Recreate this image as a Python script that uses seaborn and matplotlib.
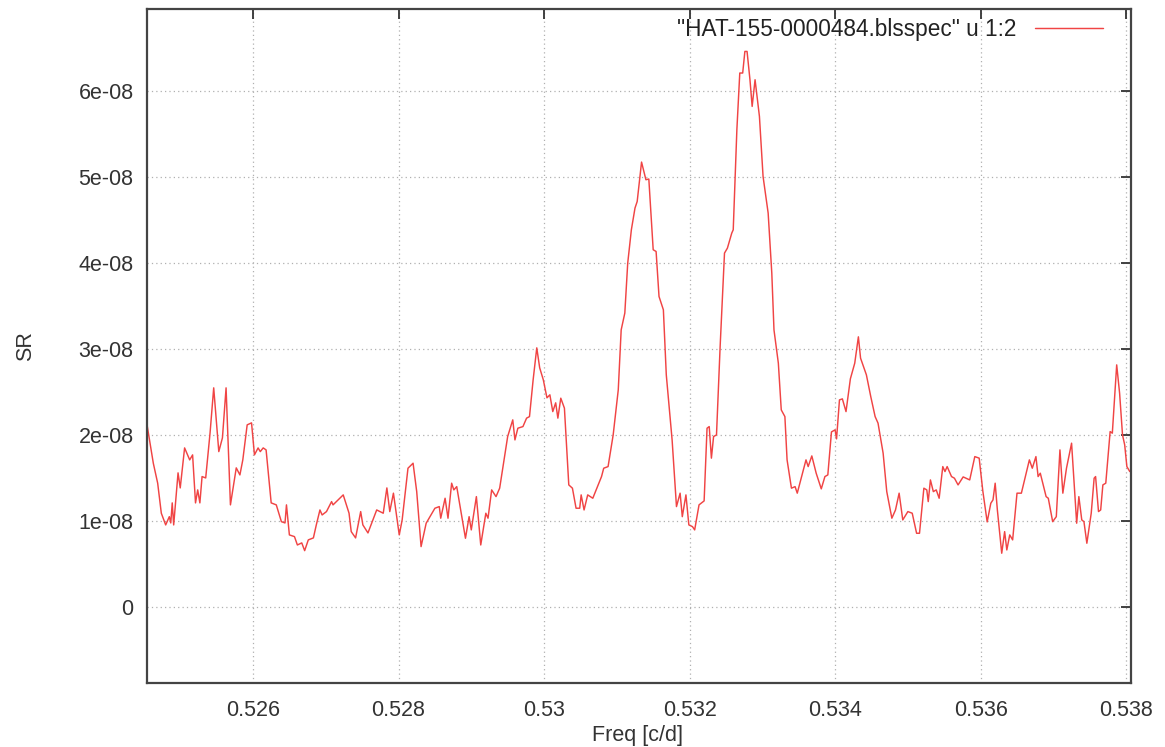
import numpy as np
import pandas as pd
import matplotlib
matplotlib.use("Agg")
import matplotlib.pyplot as plt
from matplotlib.ticker import FixedLocator
import seaborn as sns

# ---- data (frequency in c/d, SR in units of 1e-8) ----
freq = [
    0.52454, 0.52463, 0.52469, 0.52474, 0.52480, 0.52485, 0.52487, 0.52489, 0.52491, 0.52497,
    0.52500, 0.52506, 0.52513, 0.52517, 0.52521, 0.52524, 0.52527, 0.52530, 0.52535, 0.52541,
    0.52546, 0.52553, 0.52558, 0.52563, 0.52569, 0.52577, 0.52582, 0.52586, 0.52592, 0.52598,
    0.52602, 0.52607, 0.52610, 0.52614, 0.52618, 0.52625, 0.52632, 0.52639, 0.52644, 0.52646,
    0.52650, 0.52657, 0.52661, 0.52667, 0.52671, 0.52676, 0.52683, 0.52687, 0.52692, 0.52695,
    0.52701, 0.52708, 0.52710, 0.52724, 0.52732, 0.52735, 0.52741, 0.52748, 0.52751, 0.52758,
    0.52770, 0.52779, 0.52784, 0.52788, 0.52793, 0.52801, 0.52805, 0.52813, 0.52820, 0.52825,
    0.52831, 0.52838, 0.52850, 0.52856, 0.52858, 0.52864, 0.52868, 0.52873, 0.52876, 0.52880,
    0.52892, 0.52897, 0.52900, 0.52907, 0.52913, 0.52920, 0.52923, 0.52928, 0.52934, 0.52939,
    0.52950, 0.52957, 0.52960, 0.52964, 0.52971, 0.52976, 0.52980, 0.52985, 0.52990, 0.52994,
    0.52999, 0.53004, 0.53008, 0.53012, 0.53016, 0.53019, 0.53023, 0.53028, 0.53034, 0.53039,
    0.53044, 0.53049, 0.53051, 0.53055, 0.53060, 0.53067, 0.53079, 0.53082, 0.53088, 0.53095,
    0.53102, 0.53106, 0.53111, 0.53115, 0.53120, 0.53125, 0.53128, 0.53134, 0.53140, 0.53144,
    0.53150, 0.53154, 0.53158, 0.53164, 0.53168, 0.53176, 0.53182, 0.53187, 0.53190, 0.53195,
    0.53199, 0.53204, 0.53207, 0.53213, 0.53220, 0.53224, 0.53227, 0.53230, 0.53233, 0.53237,
    0.53242, 0.53248, 0.53252, 0.53258, 0.53260, 0.53265, 0.53269, 0.53273, 0.53276, 0.53279,
    0.53283, 0.53286, 0.53290, 0.53296, 0.53301, 0.53308, 0.53313, 0.53316, 0.53322, 0.53326,
    0.53331, 0.53334, 0.53340, 0.53345, 0.53348, 0.53354, 0.53360, 0.53363, 0.53368, 0.53374,
    0.53381, 0.53386, 0.53390, 0.53395, 0.53400, 0.53402, 0.53406, 0.53410, 0.53415, 0.53421,
    0.53427, 0.53432, 0.53435, 0.53443, 0.53449, 0.53455, 0.53459, 0.53466, 0.53471, 0.53478,
    0.53483, 0.53488, 0.53493, 0.53500, 0.53506, 0.53512, 0.53516, 0.53522, 0.53526, 0.53528,
    0.53531, 0.53535, 0.53539, 0.53543, 0.53548, 0.53551, 0.53554, 0.53560, 0.53564, 0.53569,
    0.53576, 0.53585, 0.53592, 0.53598, 0.53603, 0.53609, 0.53614, 0.53617, 0.53620, 0.53623,
    0.53629, 0.53633, 0.53636, 0.53640, 0.53644, 0.53650, 0.53656, 0.53667, 0.53671, 0.53676,
    0.53679, 0.53682, 0.53690, 0.53693, 0.53699, 0.53704, 0.53709, 0.53713, 0.53718, 0.53725,
    0.53732, 0.53735, 0.53739, 0.53742, 0.53746, 0.53752, 0.53756, 0.53758, 0.53762, 0.53765,
    0.53768, 0.53772, 0.53778, 0.53781, 0.53787, 0.53791, 0.53795, 0.53798, 0.53801, 0.53805,
]
sr_1e8 = [
    2.140, 1.674, 1.442, 1.093, 0.957, 1.053, 0.980, 1.213, 0.957, 1.562,
    1.387, 1.852, 1.713, 1.771, 1.213, 1.364, 1.213, 1.519, 1.503, 2.027,
    2.550, 1.809, 1.969, 2.550, 1.190, 1.620, 1.538, 1.713, 2.120, 2.143,
    1.771, 1.852, 1.809, 1.852, 1.829, 1.213, 1.190, 0.995, 0.980, 1.190,
    0.841, 0.821, 0.724, 0.748, 0.658, 0.783, 0.806, 0.957, 1.131, 1.073,
    1.112, 1.228, 1.190, 1.306, 1.093, 0.879, 0.806, 1.112, 0.957, 0.864,
    1.131, 1.093, 1.387, 1.112, 1.326, 0.841, 1.015, 1.616, 1.674, 1.344,
    0.705, 0.977, 1.151, 1.170, 1.035, 1.267, 1.035, 1.442, 1.364, 1.402,
    0.802, 1.053, 0.899, 1.286, 0.724, 1.093, 1.035, 1.364, 1.286, 1.384,
    1.984, 2.178, 1.945, 2.081, 2.100, 2.198, 2.216, 2.643, 3.015, 2.783,
    2.643, 2.434, 2.469, 2.274, 2.376, 2.198, 2.430, 2.314, 1.422, 1.384,
    1.151, 1.151, 1.306, 1.131, 1.306, 1.267, 1.519, 1.616, 1.635, 2.003,
    2.527, 3.224, 3.419, 4.000, 4.387, 4.640, 4.716, 5.174, 4.969, 4.977,
    4.155, 4.135, 3.612, 3.457, 2.701, 1.945, 1.170, 1.326, 1.053, 1.306,
    0.957, 0.937, 0.899, 1.190, 1.236, 2.081, 2.100, 1.733, 1.984, 2.003,
    3.030, 4.116, 4.174, 4.349, 4.387, 5.550, 6.209, 6.209, 6.460, 6.460,
    6.131, 5.821, 6.131, 5.705, 5.007, 4.581, 3.884, 3.224, 2.837, 2.294,
    2.216, 1.713, 1.384, 1.402, 1.326, 1.519, 1.713, 1.635, 1.759, 1.558,
    1.376, 1.519, 1.538, 2.038, 2.062, 1.957, 2.410, 2.422, 2.274, 2.655,
    2.837, 3.143, 2.895, 2.701, 2.449, 2.216, 2.140, 1.791, 1.344, 1.035,
    1.131, 1.326, 1.015, 1.112, 1.093, 0.860, 0.860, 1.384, 1.364, 1.228,
    1.480, 1.344, 1.364, 1.267, 1.635, 1.577, 1.635, 1.519, 1.500, 1.422,
    1.515, 1.480, 1.751, 1.733, 1.352, 0.992, 1.209, 1.248, 1.442, 1.131,
    0.628, 0.879, 0.666, 0.841, 0.783, 1.326, 1.326, 1.713, 1.616, 1.751,
    1.519, 1.558, 1.286, 1.267, 0.995, 1.053, 1.829, 1.326, 1.616, 1.907,
    0.977, 1.286, 1.015, 0.995, 0.744, 1.093, 1.500, 1.519, 1.112, 1.131,
    1.422, 1.442, 2.042, 2.023, 2.817, 2.488, 2.003, 1.887, 1.635, 1.577,
]
x_ticks = [0.526, 0.528, 0.530, 0.532, 0.534, 0.536, 0.538]
x_tick_labels = ["0.526", "0.528", "0.53", "0.532", "0.534", "0.536", "0.538"]
y_ticks = [0.0, 1e-8, 2e-8, 3e-8, 4e-8, 5e-8, 6e-8]
y_tick_labels = ["0", "1e-08", "2e-08", "3e-08", "4e-08", "5e-08", "6e-08"]
series_label = '"HAT-155-0000484.blsspec" u 1:2'

df = pd.DataFrame({"Freq": freq, "SR": np.array(sr_1e8) * 1e-8})

sns.set_style("white")
plt.rcParams["font.family"] = ["Liberation Sans", "DejaVu Sans"]

fig = plt.figure(figsize=(11.65, 7.47), dpi=100)
ax = fig.add_axes([0.1266, 0.0857, 0.9704 - 0.1266, 0.9876 - 0.0857])

sns.lineplot(data=df, x="Freq", y="SR", ax=ax, color="#f04444", linewidth=1.05,
             sort=False, estimator=None, label=series_label)

ax.set_xlim(0.52455, 0.53806)
ax.set_ylim(-0.88e-8, 6.95e-8)

ax.xaxis.set_major_locator(FixedLocator(x_ticks))
ax.yaxis.set_major_locator(FixedLocator(y_ticks))
ax.set_xticklabels(x_tick_labels)
ax.set_yticklabels(y_tick_labels)

ax.grid(True, linestyle=(0, (1, 2.5)), color="#b0b0b0", linewidth=0.9)
ax.tick_params(direction="in", length=7, width=1.3, top=True, right=True,
               labelsize=15.5, colors="#333333", pad=10)
ax.tick_params(axis="x", pad=12)
for sp in ax.spines.values():
    sp.set_color("#444444")
    sp.set_linewidth(1.6)

ax.set_xlabel("")
ax.set_ylabel("")
fig.text(638 / 1165, 1 - 736 / 747, "Freq [c/d]", ha="center", va="center",
         fontsize=15.5, color="#333333")
fig.text(26 / 1165, 1 - 346 / 747, "SR", ha="center", va="center",
         rotation=90, fontsize=15.5, color="#333333")

leg = ax.legend(loc="upper right", frameon=False, markerfirst=False,
                handlelength=3.0, fontsize=16.3, borderaxespad=0.3,
                bbox_to_anchor=(0.988, 1.011), handletextpad=0.8)
for t in leg.get_texts():
    t.set_color("#222222")

fig.savefig("out.png", dpi=100)
